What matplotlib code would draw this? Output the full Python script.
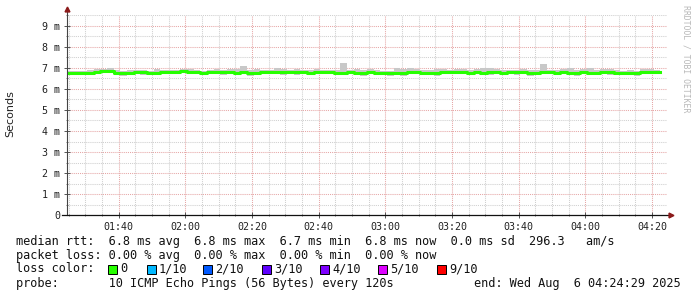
import matplotlib
matplotlib.use('Agg')
import matplotlib.pyplot as plt
from matplotlib.patches import Rectangle
from matplotlib.ticker import MultipleLocator, FuncFormatter

# probe data: one value every 120 s, starting 01:24:29 (minutes since midnight)
start_min = 84 + 29 / 60
step_min = 2
span_min = 180

# median rtt per step (ms)
median_ms = [6.74, 6.78, 6.78, 6.78, 6.80, 6.85, 6.85, 6.76, 6.74, 6.78,
             6.80, 6.79, 6.76, 6.78, 6.82, 6.80, 6.80, 6.84, 6.82, 6.80,
             6.78, 6.80, 6.80, 6.79, 6.80, 6.78, 6.80, 6.76, 6.78, 6.80,
             6.79, 6.80, 6.80, 6.82, 6.80, 6.79, 6.78, 6.80, 6.81, 6.80,
             6.78, 6.76, 6.80, 6.78, 6.76, 6.80, 6.78, 6.74, 6.74, 6.78,
             6.76, 6.80, 6.82, 6.78, 6.76, 6.78, 6.80, 6.80, 6.80, 6.80,
             6.78, 6.82, 6.78, 6.80, 6.80, 6.78, 6.80, 6.80, 6.79, 6.76,
             6.78, 6.80, 6.80, 6.78, 6.80, 6.78, 6.76, 6.80, 6.78, 6.76,
             6.80, 6.80, 6.78, 6.78, 6.74, 6.76, 6.80, 6.80, 6.80]
# smoke band (min / max of the pings, ms)
smoke_lo_ms = [6.68, 6.70, 6.72, 6.66, 6.70, 6.74, 6.74, 6.66, 6.64, 6.70,
               6.72, 6.68, 6.66, 6.70, 6.72, 6.70, 6.72, 6.74, 6.72, 6.70,
               6.68, 6.70, 6.72, 6.68, 6.70, 6.66, 6.70, 6.64, 6.68, 6.72,
               6.70, 6.70, 6.66, 6.70, 6.68, 6.70, 6.70, 6.72, 6.70, 6.70,
               6.68, 6.66, 6.72, 6.68, 6.64, 6.70, 6.68, 6.66, 6.64, 6.68,
               6.64, 6.70, 6.72, 6.66, 6.66, 6.64, 6.70, 6.70, 6.72, 6.70,
               6.66, 6.72, 6.66, 6.68, 6.72, 6.66, 6.70, 6.68, 6.70, 6.64,
               6.66, 6.70, 6.72, 6.68, 6.70, 6.66, 6.64, 6.70, 6.68, 6.66,
               6.72, 6.68, 6.70, 6.70, 6.66, 6.64, 6.70, 6.72, 6.72]
smoke_hi_ms = [6.86, 6.88, 6.86, 6.90, 6.94, 6.96, 6.98, 6.90, 6.86, 6.92,
               6.90, 6.92, 6.88, 6.94, 6.90, 6.90, 6.92, 6.94, 6.94, 6.92,
               6.88, 6.92, 6.94, 6.90, 6.94, 6.94, 7.08, 6.90, 6.94, 6.92,
               6.90, 6.98, 6.94, 6.92, 6.96, 6.92, 6.90, 6.94, 6.92, 6.92,
               6.90, 7.26, 6.92, 6.94, 6.90, 6.94, 6.90, 6.88, 6.88, 6.98,
               6.94, 7.00, 6.94, 6.90, 6.90, 6.94, 6.96, 6.92, 6.94, 6.96,
               6.90, 6.94, 7.00, 6.98, 6.96, 6.92, 6.92, 6.90, 6.94, 6.92,
               6.90, 7.20, 6.90, 6.90, 6.94, 7.00, 6.90, 6.94, 6.98, 6.92,
               6.96, 6.94, 6.90, 6.88, 6.92, 6.88, 6.96, 6.94, 6.92]

yticks = [0, 1, 2, 3, 4, 5, 6, 7, 8, 9]
ytick_labels = ['0', '1 m', '2 m', '3 m', '4 m', '5 m', '6 m', '7 m', '8 m', '9 m']

legend_lines = [
    'median rtt:  6.8 ms avg  6.8 ms max  6.7 ms min  6.8 ms now  0.0 ms sd  296.3   am/s',
    'packet loss: 0.00 % avg  0.00 % max  0.00 % min  0.00 % now',
]
loss_labels = ['0', '1/10', '2/10', '3/10', '4/10', '5/10', '9/10']
loss_colors = ['#26ff00', '#00b8ff', '#0059ff', '#5e00ff', '#7e00ff', '#dd00ff', '#ff0000']
loss_x = [108, 147, 203, 262, 320, 378, 437]
probe_text = 'probe:       10 ICMP Echo Pings (56 Bytes) every 120s'
end_text = 'end: Wed Aug  6 04:24:29 2025'

W, H = 697, 297
fig = plt.figure(figsize=(W / 100, H / 100), dpi=100)
fig.patch.set_facecolor('white')
ax = fig.add_axes([67 / W, (H - 215) / H, 600 / W, 200 / H])

n = len(median_ms)
edges = [start_min + i * step_min for i in range(n + 1)]

ax.fill_between(edges, smoke_lo_ms + [smoke_lo_ms[-1]], smoke_hi_ms + [smoke_hi_ms[-1]],
                step='post', color='#c8c8c8', linewidth=0, zorder=2)
ax.step(edges, median_ms + [median_ms[-1]], where='post', color='#26ff00',
        linewidth=2.2, zorder=3)

ax.set_xlim(start_min, start_min + span_min)
ax.set_ylim(0, 200 / 21)

# grid
ax.xaxis.set_major_locator(MultipleLocator(20))
ax.xaxis.set_minor_locator(MultipleLocator(5))
ax.yaxis.set_major_locator(MultipleLocator(1))
ax.yaxis.set_minor_locator(MultipleLocator(0.5))
ax.grid(which='minor', color='#cfcfcf', linestyle=(0, (1, 1)), linewidth=0.75, zorder=0)
ax.grid(which='major', color='#e6a6a6', linestyle=(0, (1, 1)), linewidth=0.75, zorder=1)
ax.set_axisbelow(True)

ax.xaxis.set_major_formatter(FuncFormatter(lambda v, p: '%02d:%02d' % (int(v) // 60, int(v) % 60)))
ax.set_yticks(yticks)
ax.set_yticklabels(ytick_labels)

for lab in ax.get_xticklabels() + ax.get_yticklabels():
    lab.set_family('DejaVu Sans Mono')
    lab.set_fontsize(7.2)
    lab.set_color('#222222')
ax.tick_params(axis='both', which='major', direction='inout', length=4, width=0.7,
               color='#555555', pad=3)
ax.tick_params(axis='both', which='minor', direction='inout', length=2, width=0.7,
               color='#777777')

for s in ['top', 'right', 'left', 'bottom']:
    ax.spines[s].set_visible(False)
# axes with arrows
ax.plot([0, 0], [0, 1.03], transform=ax.transAxes, color='#444444', linewidth=0.8,
        clip_on=False, zorder=5)
ax.plot([-0.008, 1.006], [0, 0], transform=ax.transAxes, color='#111111', linewidth=0.9,
        clip_on=False, zorder=5)
ax.plot([0], [1.03], marker='^', markersize=3.5, color='#8b1a1a', transform=ax.transAxes,
        clip_on=False, zorder=6)
ax.plot([1.006], [0], marker='>', markersize=3.5, color='#8b1a1a', transform=ax.transAxes,
        clip_on=False, zorder=6)

fig.text(10 / W, 1 - 114 / H, 'Seconds', rotation=90, ha='center', va='center',
         fontsize=8, family='DejaVu Sans', color='#222222')
fig.text(686 / W, 1 - 5 / H, 'RRDTOOL / TOBI OETIKER', rotation=-90, ha='center', va='top',
         fontsize=5.9, family='DejaVu Sans Mono', color='#b8b8b8')

mono = dict(fontsize=8.52, family='DejaVu Sans Mono', color='#111111', va='center')
fig.text(16 / W, 1 - 241 / H, legend_lines[0], ha='left', **mono)
fig.text(16 / W, 1 - 255 / H, legend_lines[1], ha='left', **mono)
fig.text(16 / W, 1 - 269 / H, 'loss color:', ha='left', **mono)
for x, lab, col in zip(loss_x, loss_labels, loss_colors):
    fig.patches.append(Rectangle((x / W, 1 - 273.5 / H), 8.5 / W, 9 / H, transform=fig.transFigure,
                                 facecolor=col, edgecolor='black', linewidth=0.7))
    fig.text((x + 12) / W, 1 - 269 / H, lab, ha='left', **mono)
fig.text(16 / W, 1 - 283 / H, probe_text, ha='left', **mono)
fig.text(681 / W, 1 - 283 / H, end_text, ha='right', **mono)

fig.savefig('out.png', dpi=100, facecolor='white')
